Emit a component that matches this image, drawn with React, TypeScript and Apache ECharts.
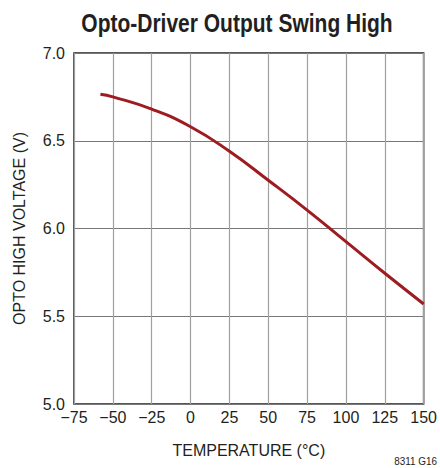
import React, { useEffect, useRef } from "react";
import * as echarts from "echarts";

const temperatures = [-58, -50, -25, 0, 25, 50, 75, 100, 125, 150];
const voltages = [6.765, 6.75, 6.68, 6.58, 6.44, 6.275, 6.105, 5.925, 5.745, 5.57];

const FONT = "'Liberation Sans', Arial, Helvetica, sans-serif";

export default function App() {
  const ref = useRef<HTMLDivElement>(null);
  useEffect(() => {
    if (!ref.current) return;
    const chart = echarts.init(ref.current, undefined, { renderer: "svg" });
    chart.setOption({
      animation: false,
      backgroundColor: "#ffffff",
      graphic: [
        {
          type: "text",
          x: 237,
          y: 23,
          scaleX: 0.84,
          style: {
            text: "Opto-Driver Output Swing High",
            textAlign: "center",
            textVerticalAlign: "middle",
            font: `bold 25px ${FONT}`,
            fill: "#231f20",
          },
        },
        {
          type: "text",
          x: 437,
          y: 461,
          scaleX: 0.9,
          style: {
            text: "8311 G16",
            textAlign: "right",
            textVerticalAlign: "middle",
            font: `11px ${FONT}`,
            fill: "#231f20",
          },
        },
      ],
      grid: { left: 74, right: 14, top: 53, bottom: 64, show: true, borderColor: "#231f20", borderWidth: 1.5 },
      xAxis: {
        type: "value",
        min: -75,
        max: 150,
        interval: 25,
        name: "TEMPERATURE (°C)",
        nameLocation: "middle",
        nameGap: 38,
        nameTextStyle: { fontFamily: FONT, fontSize: 16, color: "#231f20" },
        axisLine: { show: false },
        axisTick: { show: false },
        axisLabel: {
          fontFamily: FONT,
          fontSize: 16,
          color: "#231f20",
          margin: 5,
          formatter: (v: number) => String(v).replace("-", "\u2212"),
        },
        splitLine: { show: true, lineStyle: { color: "#a0a0a0", width: 1.2 } },
      },
      yAxis: {
        type: "value",
        min: 5.0,
        max: 7.0,
        interval: 0.5,
        name: "OPTO HIGH VOLTAGE (V)",
        nameLocation: "middle",
        nameGap: 47,
        nameTextStyle: { fontFamily: FONT, fontSize: 16, color: "#231f20" },
        axisLine: { show: false },
        axisTick: { show: false },
        axisLabel: {
          fontFamily: FONT,
          fontSize: 16,
          color: "#231f20",
          margin: 9,
          formatter: (v: number) => v.toFixed(1),
        },
        splitLine: { show: true, lineStyle: { color: "#777777", width: 1.2 } },
      },
      series: [
        {
          type: "line",
          data: temperatures.map((t, i) => [t, voltages[i]]),
          smooth: true,
          showSymbol: false,
          lineStyle: { color: "#9e1b20", width: 3 },
        },
      ],
    });
    return () => chart.dispose();
  }, []);
  return <div ref={ref} style={{ width: 440, height: 468, position: "absolute", left: 0, top: 0 }} />;
}
